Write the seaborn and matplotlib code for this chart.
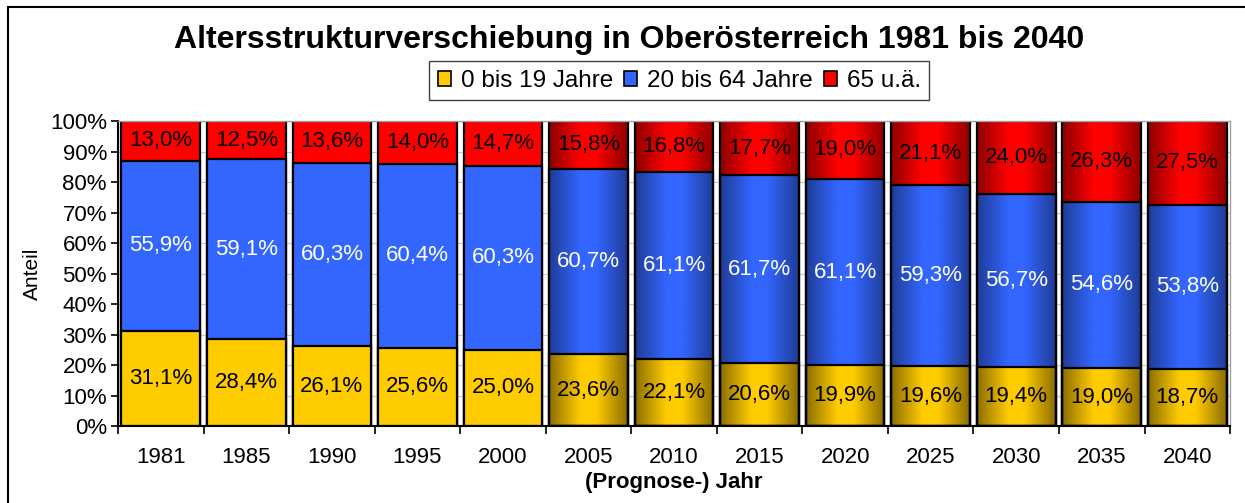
import numpy as np
import pandas as pd
import matplotlib
matplotlib.use("Agg")
import matplotlib.pyplot as plt
import seaborn as sns
from matplotlib.colors import LinearSegmentedColormap
from matplotlib.patches import Patch, Rectangle
from matplotlib.ticker import MultipleLocator, FuncFormatter

# Daten
jahre = ["1981", "1985", "1990", "1995", "2000", "2005", "2010",
         "2015", "2020", "2025", "2030", "2035", "2040"]
jung = [31.1, 28.4, 26.1, 25.6, 25.0, 23.6, 22.1, 20.6, 19.9, 19.6, 19.4, 19.0, 18.7]
mittel = [55.9, 59.1, 60.3, 60.4, 60.3, 60.7, 61.1, 61.7, 61.1, 59.3, 56.7, 54.6, 53.8]
alt = [13.0, 12.5, 13.6, 14.0, 14.7, 15.8, 16.8, 17.7, 19.0, 21.1, 24.0, 26.3, 27.5]
serien = ["0 bis 19 Jahre", "20 bis 64 Jahre", "65 u.ä."]
prognose_ab = "2005"

farben = {"gelb": "#FFCC00", "blau": "#3366FF", "rot": "#FF0000"}
dunkel = {"gelb": "#8C6E00", "blau": "#1F3C96", "rot": "#8C0000"}

df = pd.DataFrame({"Jahr": jahre, "jung": jung, "mittel": mittel, "alt": alt})
df["bis_mittel"] = df["jung"] + df["mittel"]
df["gesamt"] = df["bis_mittel"] + df["alt"]

sns.set_style("white")
plt.rcParams["font.family"] = ["Liberation Sans", "DejaVu Sans"]
plt.rcParams.update({"text.color": "black", "axes.labelcolor": "black",
                     "xtick.color": "black", "ytick.color": "black"})

fig = plt.figure(figsize=(12.45, 5.03), dpi=100)
ax = fig.add_axes([0.0948, 0.153, 0.8932, 0.6064])

breite = 0.92
ebenen = [("gesamt", "rot"), ("bis_mittel", "blau"), ("jung", "gelb")]
balken = {}
for spalte, farbe in ebenen:
    n_vorher = len(ax.patches)
    sns.barplot(data=df, x="Jahr", y=spalte, order=jahre, color=farben[farbe],
                width=breite, edgecolor="black", linewidth=1.6, saturation=1,
                ax=ax, zorder=2)
    balken[farbe] = ax.patches[n_vorher:]

# Verlauf für die Prognosejahre
idx0 = jahre.index(prognose_ab)
for farbe, patches in balken.items():
    cmap = LinearSegmentedColormap.from_list(
        farbe, [(0, dunkel[farbe]), (0.4, farben[farbe]), (0.6, farben[farbe]), (1, dunkel[farbe])])
    grad = np.linspace(0, 1, 256).reshape(1, -1)
    for p in patches[idx0:]:
        x0, y0 = p.get_x(), p.get_y()
        w, h = p.get_width(), p.get_height()
        im = ax.imshow(grad, cmap=cmap, aspect="auto", extent=(x0, x0 + w, y0, y0 + h),
                       zorder=2.1, interpolation="bilinear")
        im.set_clip_path(p)
        p.set_facecolor("none")
        p.set_zorder(2.2)

# Beschriftungen
fmt = lambda v: f"{v:.1f}%".replace(".", ",")
for i in range(len(jahre)):
    ax.text(i, jung[i] / 2, fmt(jung[i]), ha="center", va="center", fontsize=16, color="black", zorder=5)
    ax.text(i, jung[i] + mittel[i] / 2, fmt(mittel[i]), ha="center", va="center", fontsize=16, color="white", zorder=5)
    ax.text(i, df["bis_mittel"][i] + alt[i] / 2, fmt(alt[i]), ha="center", va="center", fontsize=16, color="black", zorder=5)

ax.set_xlim(-0.5, len(jahre) - 0.5)
ax.set_ylim(0, 100)
ax.yaxis.set_major_locator(MultipleLocator(10))
ax.yaxis.set_major_formatter(FuncFormatter(lambda v, _: f"{v:.0f}%"))
ax.grid(axis="y", color="#C8C8C8", linewidth=0.8, zorder=0)
ax.set_axisbelow(True)

ax.set_xticks(np.arange(len(jahre)))
ax.set_xticklabels(jahre)
ax.set_xticks(np.arange(len(jahre) + 1) - 0.5, minor=True)
ax.tick_params(axis="x", which="major", length=0, labelsize=16, pad=15)
ax.tick_params(axis="x", which="minor", length=6, width=1.2, color="black", direction="out")
ax.tick_params(axis="y", length=5, width=1.2, color="black", direction="out", labelsize=16, pad=3)
ax.tick_params(left=True, bottom=True, which="both")

for s in ["left", "bottom"]:
    ax.spines[s].set_color("black")
    ax.spines[s].set_linewidth(1.5)
for s in ["top", "right"]:
    ax.spines[s].set_color("#A0A0A0")
    ax.spines[s].set_linewidth(1.0)

ax.set_xlabel("(Prognose-) Jahr", fontsize=16, fontweight="bold", labelpad=3)
ax.set_ylabel("Anteil", fontsize=15, labelpad=6)

fig.text(0.505, 0.921, "Altersstrukturverschiebung in Oberösterreich 1981 bis 2040",
         ha="center", va="center", fontsize=23, fontweight="bold")

handles = [Patch(facecolor=farben[f], edgecolor="black", linewidth=1.2) for f in ["gelb", "blau", "rot"]]
leg = fig.legend(handles, serien, loc="center", bbox_to_anchor=(0.5455, 0.839), ncol=3,
                 fancybox=False, edgecolor="#404040", framealpha=1, fontsize=17.5,
                 handlelength=0.55, handleheight=0.55, handletextpad=0.4, columnspacing=0.45,
                 borderpad=0.35, borderaxespad=0)
leg.get_frame().set_linewidth(1.0)

fig.patches.append(Rectangle((8 / 1245, -0.1), 1.2, 1.1 - 7 / 503, transform=fig.transFigure,
                             fill=False, edgecolor="black", linewidth=1.5))

fig.savefig("out.png", dpi=100)
